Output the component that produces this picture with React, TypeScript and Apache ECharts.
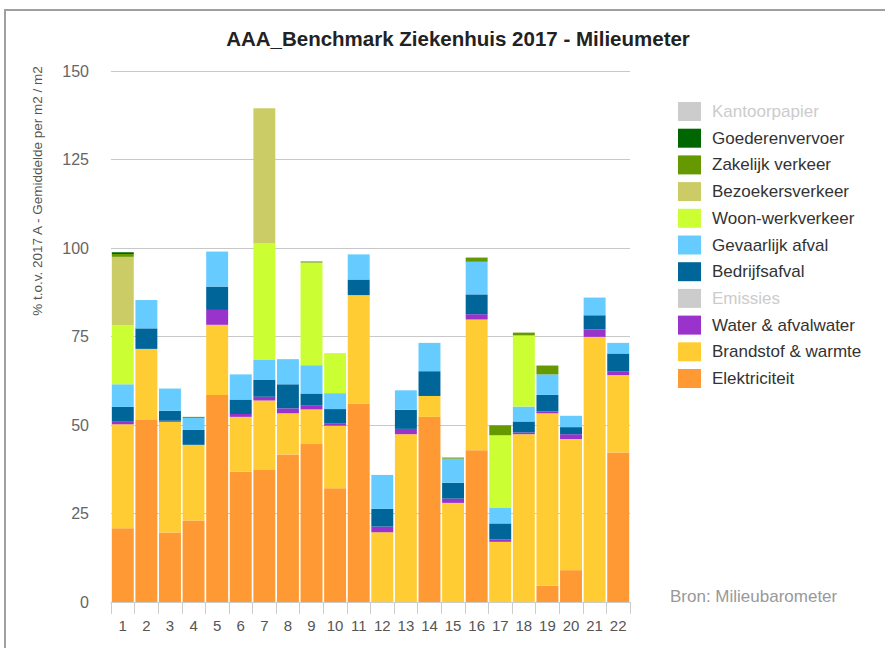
import React, { useEffect, useRef } from "react";
import * as echarts from "echarts";

const categories = ["1","2","3","4","5","6","7","8","9","10","11","12","13","14","15","16","17","18","19","20","21","22"];

const elektriciteit = [20.8, 51.4, 19.6, 23.0, 58.5, 36.8, 37.3, 41.7, 44.6, 32.1, 56.1, 0, 0, 52.3, 0, 42.9, 0, 0, 4.6, 9.0, 0, 42.2];
const brandstof = [29.4, 20.1, 31.3, 21.4, 19.8, 15.5, 19.6, 11.6, 9.8, 17.7, 30.6, 19.7, 47.4, 5.9, 28.0, 36.9, 17.0, 47.4, 48.7, 37.0, 74.9, 21.9];
const water = [0.9, 0, 0.3, 0, 4.2, 0.8, 1.1, 1.4, 1.2, 0.7, 0, 1.6, 1.5, 0, 1.2, 1.5, 0.7, 0.5, 0.5, 1.4, 2.1, 1.1];
const emissies = [0, 0, 0, 0, 0, 0, 0, 0, 0, 0, 0, 0, 0, 0, 0, 0, 0, 0, 0, 0, 0, 0];
const bedrijfsafval = [4.0, 5.8, 2.8, 4.2, 6.6, 4.1, 4.7, 6.8, 3.3, 4.0, 4.4, 5.0, 5.4, 7.0, 4.5, 5.6, 4.5, 3.1, 4.7, 2.0, 4.0, 5.0];
const gevaarlijk = [6.4, 8.0, 6.3, 3.4, 9.9, 7.1, 5.8, 7.1, 8.0, 4.5, 7.1, 9.6, 5.5, 8.0, 6.8, 9.2, 4.5, 4.2, 5.8, 3.2, 5.0, 3.0];
const woonwerk = [16.7, 0, 0, 0, 0, 0, 32.9, 0, 29.0, 11.3, 0, 0, 0, 0, 0, 0, 20.4, 20.1, 0, 0, 0, 0];
const bezoekers = [19.3, 0, 0, 0, 0, 0, 38.1, 0, 0, 0, 0, 0, 0, 0, 0, 0, 0, 0, 0, 0, 0, 0];
const zakelijk = [0.8, 0, 0, 0.3, 0, 0, 0, 0, 0.3, 0, 0, 0, 0, 0, 0.3, 1.2, 2.8, 0.8, 2.5, 0, 0, 0];
const goederen = [0.5, 0, 0, 0, 0, 0, 0, 0, 0, 0, 0, 0, 0, 0, 0, 0, 0, 0, 0, 0, 0, 0];
const kantoorpapier = [0, 0, 0, 0, 0, 0, 0, 0, 0, 0, 0, 0, 0, 0, 0, 0, 0, 0, 0, 0, 0, 0];

const yTicks = [0, 25, 50, 75, 100, 125, 150];

const seriesDefs = [
  { name: "Elektriciteit", data: elektriciteit, color: "#ff9933" },
  { name: "Brandstof & warmte", data: brandstof, color: "#ffcc33" },
  { name: "Water & afvalwater", data: water, color: "#9933cc" },
  { name: "Emissies", data: emissies, color: "#999999" },
  { name: "Bedrijfsafval", data: bedrijfsafval, color: "#006699" },
  { name: "Gevaarlijk afval", data: gevaarlijk, color: "#66ccff" },
  { name: "Woon-werkverkeer", data: woonwerk, color: "#ccff33" },
  { name: "Bezoekersverkeer", data: bezoekers, color: "#cccc66" },
  { name: "Zakelijk verkeer", data: zakelijk, color: "#669900" },
  { name: "Goederenvervoer", data: goederen, color: "#006600" },
  { name: "Kantoorpapier", data: kantoorpapier, color: "#cccccc" },
];

const FONT = "'Liberation Sans', Arial, sans-serif";

export default function App() {
  const ref = useRef<HTMLDivElement>(null);
  useEffect(() => {
    if (!ref.current) return;
    const chart = echarts.init(ref.current, null, { renderer: "svg" });
    chart.setOption({
      animation: false,
      backgroundColor: "#ffffff",
      textStyle: { fontFamily: FONT },
      title: {
        text: "AAA_Benchmark Ziekenhuis 2017 - Milieumeter",
        left: 453,
        top: 23,
        textAlign: "center",
        textStyle: { fontSize: 20.5, fontWeight: "bold", color: "#222", fontFamily: FONT },
      },
      legend: {
        orient: "vertical",
        left: 673,
        top: 97,
        itemWidth: 23,
        itemHeight: 19,
        itemGap: 7.7,
        icon: "rect",
        data: seriesDefs.map((s) => s.name).reverse(),
        selected: { Kantoorpapier: false, Emissies: false },
        inactiveColor: "#cccccc",
        textStyle: { fontSize: 17, color: "#333", fontFamily: FONT, padding: [0, 0, 0, 6] },
      },
      grid: { left: 111, right: 255, top: 71, bottom: 46, containLabel: false },
      xAxis: {
        type: "category",
        data: categories,
        axisLine: { show: true, lineStyle: { color: "#cccccc" } },
        axisTick: { show: true, length: 12, lineStyle: { color: "#cccccc" } },
        axisLabel: { fontSize: 15, color: "#555", margin: 16, fontFamily: FONT },
      },
      yAxis: {
        type: "value",
        min: 0,
        max: 150,
        interval: 25,
        axisLine: { show: false },
        axisTick: { show: false },
        axisLabel: {
          fontSize: 16,
          color: "#666",
          margin: 22,
          fontFamily: FONT,
          formatter: (v: number) => (yTicks.includes(v) ? String(v) : ""),
        },
        splitLine: { show: true, lineStyle: { color: "#c8c8c8", width: 1 } },
      },
      series: seriesDefs.map((s) => ({
        name: s.name,
        type: "bar",
        stack: "total",
        data: s.data,
        barCategoryGap: "7%",
        itemStyle: { color: s.color },
      })),
      graphic: [
        {
          type: "rect",
          shape: { x: 5, y: 10, width: 920, height: 700 },
          style: { fill: "none", stroke: "#a0a0a0", lineWidth: 2 },
          silent: true,
        },
        {
          type: "text",
          x: 37,
          y: 191,
          rotation: Math.PI / 2,
          style: {
            text: "% t.o.v. 2017 A - Gemiddelde per m2 / m2",
            fontSize: 13.5,
            fill: "#555",
            fontFamily: FONT,
            align: "center",
            verticalAlign: "middle",
          },
        },
        {
          type: "text",
          x: 670,
          y: 596,
          style: {
            text: "Bron: Milieubarometer",
            fontSize: 17,
            fill: "#999",
            fontFamily: FONT,
            align: "left",
            verticalAlign: "middle",
          },
        },
      ],
    });
    return () => chart.dispose();
  }, []);
  return (
    <div
      ref={ref}
      style={{ position: "fixed", left: 0, top: 0, width: 885, height: 648 }}
    />
  );
}
